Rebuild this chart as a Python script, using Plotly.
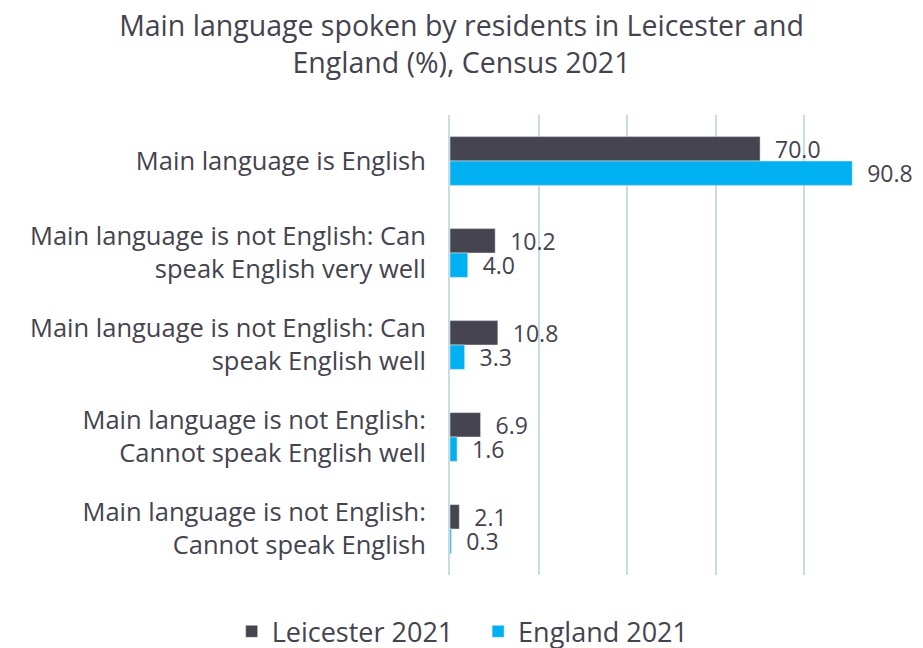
import plotly.graph_objects as go

categories = [
    "Main language is English",
    "Main language is not English: Can<br>speak English very well",
    "Main language is not English: Can<br>speak English well",
    "Main language is not English:<br>Cannot speak English well",
    "Main language is not English:<br>Cannot speak English",
]
leicester = [70.0, 10.2, 10.8, 6.9, 2.1]
england = [90.8, 4.0, 3.3, 1.6, 0.3]

text_color = "#44434f"
font_family = "'Open Sans', Lato, sans-serif"
pad = "\u00a0\u00a0"  # small gap between bar end and its value label

fig = go.Figure()
fig.add_trace(go.Bar(
    y=categories, x=leicester, orientation="h", name="Leicester 2021",
    marker=dict(color="#45444f"), legend="legend",
    text=[pad + f"{v:.1f}" for v in leicester], textposition="outside",
    constraintext="none",
    textfont=dict(size=23, color=text_color), cliponaxis=False,
))
fig.add_trace(go.Bar(
    y=categories, x=england, orientation="h", name="England 2021",
    marker=dict(color="#00b0f0"), legend="legend2",
    text=[pad + f"{v:.1f}" for v in england], textposition="outside",
    constraintext="none",
    textfont=dict(size=23, color=text_color), cliponaxis=False,
))

legend_common = dict(
    orientation="h", xref="container", xanchor="left",
    yref="container", y=0.025, yanchor="middle",
    font=dict(size=27, color=text_color),
)

fig.update_layout(
    width=923, height=648,
    margin=dict(l=450, r=30, t=115, b=73, autoexpand=False),
    paper_bgcolor="white", plot_bgcolor="white",
    font=dict(family=font_family, color=text_color),
    title=dict(
        text="Main language spoken by residents in Leicester and<br>England (%), Census 2021",
        x=0.5, xanchor="center", yref="container", y=0.945, yanchor="top",
        font=dict(size=28.5, color=text_color),
    ),
    barmode="group", bargap=0.47, bargroupgap=0,
    showlegend=True,
    legend=dict(x=0.251, **legend_common),
    legend2=dict(x=0.518, **legend_common),
    xaxis=dict(
        range=[0, 100], dtick=20, showticklabels=False,
        showgrid=True, gridcolor="#c8dce2", gridwidth=2,
        zeroline=False, showline=False,
    ),
    yaxis=dict(
        autorange="reversed", showgrid=False, zeroline=False,
        showline=True, linecolor="#c8dce2", linewidth=2,
        ticks="", ticklabelstandoff=17,
        tickfont=dict(size=25.5, color=text_color),
    ),
)

fig.write_html("out.html")
